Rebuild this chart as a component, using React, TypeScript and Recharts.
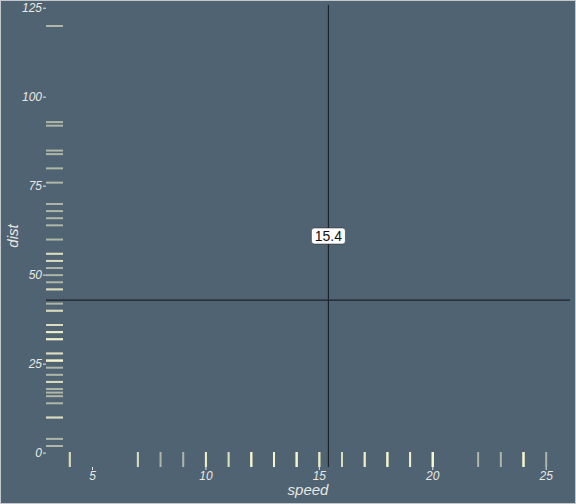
import { ComposedChart, Scatter, XAxis, YAxis, ReferenceLine } from 'recharts';

// cars dataset
const speed = [4, 4, 7, 7, 8, 9, 10, 10, 10, 11, 11, 12, 12, 12, 12, 13, 13, 13, 13, 14, 14, 14, 14, 15, 15, 15, 16, 16, 17, 17, 17, 18, 18, 18, 18, 19, 19, 19, 20, 20, 20, 20, 20, 22, 23, 24, 24, 24, 24, 25];
const dist = [2, 10, 4, 22, 16, 10, 18, 26, 34, 17, 28, 14, 20, 24, 28, 26, 34, 34, 46, 26, 36, 60, 80, 20, 26, 54, 32, 40, 32, 40, 50, 42, 56, 76, 84, 36, 46, 68, 32, 48, 52, 56, 64, 66, 54, 70, 92, 93, 120, 85];

const xTicks = [5, 10, 15, 20, 25];
const yTicks = [0, 25, 50, 75, 100, 125];
const xDomain: [number, number] = [2.95, 26.05];
const yDomain: [number, number] = [-3.9, 125.9];

const meanSpeed = 15.4;
const meanDist = 42.98;
const labels = [{ x: 15.4, y: 61, text: '15.4' }];

const BG = '#4f6373';
const RUG = '#fffbd0';
const TEXT = '#e8e8e2';
const FONT = '"Liberation Sans", Arial, sans-serif';

const xRug = speed.map(s => ({ x: s, y: yDomain[0] }));
const yRug = dist.map(d => ({ x: xDomain[0], y: d }));

const XRugShape = (p: any) => (
  <line x1={p.cx} x2={p.cx} y1={p.cy} y2={p.cy - 15} stroke={RUG} strokeOpacity={0.55} strokeWidth={2} />
);

const YRugShape = (p: any) => (
  <line x1={p.cx} x2={p.cx + 17} y1={p.cy} y2={p.cy} stroke={RUG} strokeOpacity={0.55} strokeWidth={2} />
);

const LabelShape = (p: any) => (
  <g>
    <rect x={p.cx - 17} y={p.cy - 8} width={34} height={16} rx={3} fill="#ffffff" stroke="#222" strokeWidth={0.5} />
    <text x={p.cx} y={p.cy} textAnchor="middle" dominantBaseline="central" fontSize={14} fontFamily={FONT} fill="#111">
      {p.payload.text}
    </text>
  </g>
);

const tickStyle = { fill: TEXT, fontSize: 12, fontStyle: 'italic', fontFamily: FONT };

export default function App() {
  return (
    <div style={{ position: 'absolute', left: 0, top: 0, width: 576, height: 504, background: BG, boxSizing: 'border-box', border: '1px solid #c4c8cc' }}>
      <div style={{ position: 'absolute', left: -1, top: -1 }}>
        <ComposedChart width={576} height={504} margin={{ top: 5, right: 6, bottom: 0, left: 0 }}>
          <XAxis
            type="number"
            dataKey="x"
            domain={xDomain}
            ticks={xTicks}
            height={37}
            axisLine={false}
            tickSize={3}
            tickMargin={1}
            tickLine={{ stroke: TEXT }}
            tick={tickStyle}
            label={{ value: 'speed', position: 'insideBottom', offset: 9, fill: TEXT, fontSize: 15, fontStyle: 'italic', fontFamily: FONT }}
          />
          <YAxis
            type="number"
            dataKey="y"
            domain={yDomain}
            ticks={yTicks}
            width={46}
            axisLine={false}
            tickSize={3}
            tickMargin={1}
            tickLine={{ stroke: TEXT }}
            tick={tickStyle}
            label={{
              content: (props: any) => {
                const vb = props.viewBox;
                const cx = vb.x + 12;
                const cy = vb.y + vb.height / 2;
                return (
                  <text x={cx} y={cy} transform={`rotate(-90 ${cx} ${cy})`} textAnchor="middle" dominantBaseline="central"
                    fill={TEXT} fontSize={15} fontStyle="italic" fontFamily={FONT}>dist</text>
                );
              },
            }}
          />
          <ReferenceLine x={meanSpeed} stroke="#1c232a" strokeWidth={1.2} />
          <ReferenceLine y={meanDist} stroke="#1c232a" strokeWidth={1.2} />
          <Scatter data={xRug} shape={XRugShape} isAnimationActive={false} />
          <Scatter data={yRug} shape={YRugShape} isAnimationActive={false} />
          <Scatter data={labels} shape={LabelShape} isAnimationActive={false} />
        </ComposedChart>
      </div>
    </div>
  );
}
